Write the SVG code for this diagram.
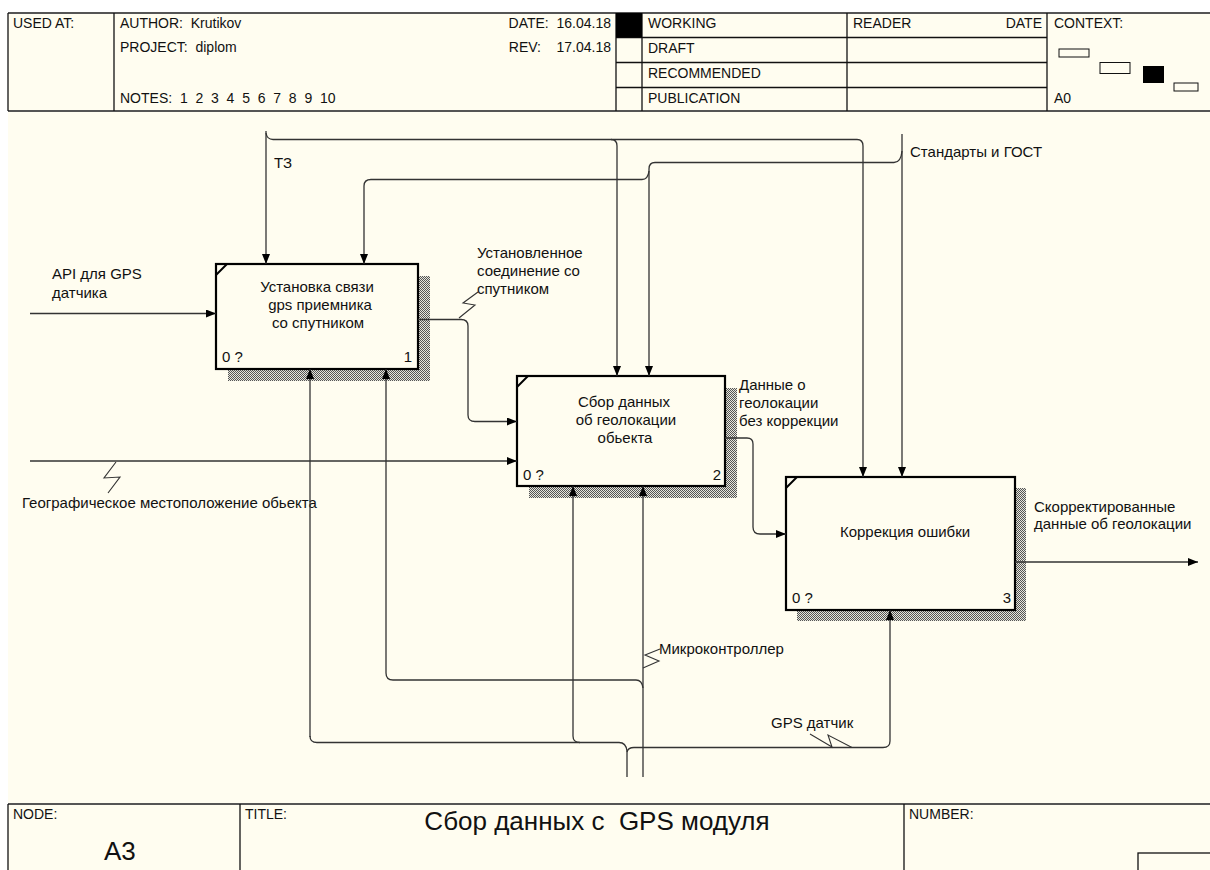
<svg xmlns="http://www.w3.org/2000/svg" width="1210" height="870" viewBox="0 0 1210 870">
  <defs>
    <style>
      .t { font-family: "Liberation Sans", Arial, sans-serif; font-size: 15px; fill: #111; white-space: pre; }
      .h { font-size: 14px; }
      .mid { text-anchor: middle; }
      .end { text-anchor: end; }
      .frame { fill: none; stroke: #111; stroke-width: 1.3; }
      .rule { fill: none; stroke: #555; stroke-width: 2; }
      .conn { fill: none; stroke: #333; stroke-width: 1.3; }
      .arr { marker-end: url(#arrow); }
      .squig { fill: none; stroke: #333; stroke-width: 1.1; }
      .box { fill: #fffdf0; stroke: #000; stroke-width: 2.2; }
      .corner { stroke: #000; stroke-width: 2; }
      .shadow { fill: url(#hatch); }
    </style>
    <pattern id="hatch" width="2" height="2" patternUnits="userSpaceOnUse">
      <rect width="2" height="2" fill="#e6e6dc"/>
      <rect width="1" height="1" fill="#555"/>
      <rect x="1" y="1" width="1" height="1" fill="#555"/>
    </pattern>
    <marker id="arrow" markerUnits="userSpaceOnUse" markerWidth="10" markerHeight="8" refX="10" refY="4" orient="auto">
      <path d="M0,0 L10,4 L0,8 z" fill="#000"/>
    </marker>
  </defs>

  <!-- page -->
  <rect width="1210" height="870" fill="#ffffff"/>
  <rect x="8" y="13" width="1202" height="857" fill="#fffdf0"/>

  <!-- header frame -->
  <g id="header">
    <line class="rule" x1="8" y1="13" x2="1210" y2="13"/>
    <line class="rule" x1="8" y1="111" x2="1210" y2="111"/>
    <line class="frame" x1="8" y1="13" x2="8" y2="111"/>
    <line class="frame" x1="114" y1="13" x2="114" y2="111"/>
    <line class="frame" x1="616" y1="13" x2="616" y2="111"/>
    <line class="frame" x1="642" y1="13" x2="642" y2="111"/>
    <line class="frame" x1="847" y1="13" x2="847" y2="111"/>
    <line class="frame" x1="1047" y1="13" x2="1047" y2="111"/>
    <line class="frame" x1="616" y1="37.5" x2="1047" y2="37.5"/>
    <line class="frame" x1="616" y1="62.5" x2="1047" y2="62.5"/>
    <line class="frame" x1="616" y1="87.5" x2="1047" y2="87.5"/>
    <rect x="616" y="13" width="26" height="24.5" fill="#000"/>

    <text class="t h" x="13" y="28">USED AT:</text>
    <text class="t h" x="120" y="28">AUTHOR:  Krutikov</text>
    <text class="t h" x="120" y="52">PROJECT:  diplom</text>
    <text class="t h" x="120" y="103">NOTES:  1  2  3  4  5  6  7  8  9  10</text>
    <text class="t h end" x="611" y="28">DATE:  16.04.18</text>
    <text class="t h end" x="611" y="52">REV:    17.04.18</text>
    <text class="t h" x="648" y="28">WORKING</text>
    <text class="t h" x="648" y="53">DRAFT</text>
    <text class="t h" x="648" y="78">RECOMMENDED</text>
    <text class="t h" x="648" y="103">PUBLICATION</text>
    <text class="t h" x="853" y="28">READER</text>
    <text class="t h end" x="1042" y="28">DATE</text>
    <text class="t h" x="1054" y="28">CONTEXT:</text>
    <text class="t h" x="1054" y="103">A0</text>

    <!-- context map -->
    <rect x="1059" y="49" width="30" height="8" fill="none" stroke="#111" stroke-width="1"/>
    <rect x="1100" y="62.5" width="30" height="11" fill="none" stroke="#111" stroke-width="1"/>
    <rect x="1143" y="66" width="21" height="17" fill="#000"/>
    <rect x="1174" y="83" width="24" height="8" fill="none" stroke="#111" stroke-width="1"/>
  </g>

  <!-- activity boxes -->
  <g id="node-1">
    <rect class="shadow" x="228" y="276" width="202" height="105"/>
    <rect class="box" x="216" y="264" width="202" height="105"/>
    <line class="corner" x1="216" y1="275" x2="227" y2="264"/>
    <text class="t mid" x="317" y="292">Установка связи</text>
    <text class="t mid" x="320" y="310">gps приемника</text>
    <text class="t mid" x="318" y="328">со спутником</text>
    <text class="t" x="222" y="362">0 ?</text>
    <text class="t end" x="412" y="362">1</text>
  </g>

  <g id="node-2">
    <rect class="shadow" x="529" y="388" width="208" height="110"/>
    <rect class="box" x="517" y="376" width="208" height="110"/>
    <line class="corner" x1="517" y1="387" x2="528" y2="376"/>
    <text class="t mid" x="624" y="407">Сбор данных</text>
    <text class="t mid" x="626" y="425">об геолокации</text>
    <text class="t mid" x="625" y="443">обьекта</text>
    <text class="t" x="523" y="480">0 ?</text>
    <text class="t end" x="721" y="480">2</text>
  </g>

  <g id="node-3">
    <rect class="shadow" x="797" y="488" width="229" height="133"/>
    <rect class="box" x="786" y="477" width="229" height="133"/>
    <line class="corner" x1="786" y1="488" x2="797" y2="477"/>
    <text class="t mid" x="905" y="537">Коррекция ошибки</text>
    <text class="t" x="792" y="603">0 ?</text>
    <text class="t end" x="1011" y="603">3</text>
  </g>

  <!-- arrows -->
  <g id="connectors">
    <!-- inputs -->
    <path class="conn arr" d="M30,313.5 H216"/>
    <text class="t" x="52" y="279">API для GPS</text>
    <text class="t" x="52" y="298">датчика</text>

    <path class="conn arr" d="M30,461 H517"/>
    <path class="squig" d="M116,462 L104,478 L120,477 L108,493"/>
    <text class="t" x="22" y="508">Географическое местоположение обьекта</text>

    <!-- control: ТЗ -->
    <path class="conn arr" d="M266,131 V264"/>
    <path class="conn arr" d="M266,133 Q267,139.5 273,139.5 H857 Q863,139.5 863,146 V477"/>
    <path class="conn arr" d="M611,139.5 Q617,139.5 617,146 V376"/>
    <text class="t" x="274" y="168">ТЗ</text>

    <!-- control: standards -->
    <path class="conn arr" d="M902,134 V477"/>
    <path class="conn arr" d="M902,151 Q901,162.5 894,162.5 H655 Q649,162.5 649,169 V376"/>
    <path class="conn arr" d="M649,171 Q648,179.5 642,179.5 H371 Q364,179.5 364,186 V264"/>
    <text class="t" x="910" y="157">Стандарты и ГОСТ</text>

    <!-- output 1 -> input 2 -->
    <path class="conn arr" d="M418,319.5 H461 Q468,319.5 468,326 V415 Q468,421.5 475,421.5 H517"/>
    <path class="squig" d="M459,318 L475,305 L463,303 L478,292"/>
    <text class="t" x="477" y="258">Установленное</text>
    <text class="t" x="477" y="276">соединение со</text>
    <text class="t" x="477" y="294">спутником</text>

    <!-- output 2 -> input 3 -->
    <path class="conn arr" d="M725,438 H747 Q753,438 753,444 V527 Q753,534 760,534 H786"/>
    <text class="t" x="739" y="390">Данные о</text>
    <text class="t" x="739" y="408">геолокации</text>
    <text class="t" x="739" y="426">без коррекции</text>

    <!-- final output -->
    <path class="conn arr" d="M1015,562 H1198"/>
    <text class="t" x="1034" y="512">Скорректированные</text>
    <text class="t" x="1034" y="529">данные об геолокации</text>

    <!-- mechanism: microcontroller -->
    <path class="conn arr" d="M643,777 V486"/>
    <path class="conn arr" d="M643,688 Q642,680 636,680 H393 Q386,680 386,673 V369"/>
    <path class="squig" d="M643,668 L659,661 L645,655 L660,649"/>
    <text class="t" x="659" y="654">Микроконтроллер</text>

    <!-- mechanism: GPS sensor -->
    <path class="conn" d="M627,777 V751 Q626,742.5 619,742.5 H317 Q310,742.5 310,736"/>
    <path class="conn arr" d="M310,737 V369"/>
    <path class="conn arr" d="M580,742.5 Q573,742.5 573,736 V486"/>
    <path class="conn arr" d="M627,752 Q628,747.5 634,747.5 H883 Q890,747.5 890,741 V610"/>
    <path class="squig" d="M810,734 L832,747 L828,735 L852,747.5"/>
    <text class="t" x="771" y="728">GPS датчик</text>
  </g>

  <!-- footer frame -->
  <g id="footer">
    <line class="rule" x1="8" y1="804" x2="1210" y2="804"/>
    <line class="frame" x1="8" y1="804" x2="8" y2="870"/>
    <line class="frame" x1="240" y1="804" x2="240" y2="870"/>
    <line class="frame" x1="904" y1="804" x2="904" y2="870"/>
    <rect x="1138" y="853" width="80" height="30" fill="none" stroke="#111" stroke-width="1.3"/>
    <text class="t h" x="13" y="819">NODE:</text>
    <text class="t" x="104" y="860" style="font-size:26px">A3</text>
    <text class="t h" x="245" y="819">TITLE:</text>
    <text class="t mid" x="597" y="830" style="font-size:26px">Сбор данных с  GPS модуля</text>
    <text class="t h" x="909" y="819">NUMBER:</text>
  </g>
</svg>
